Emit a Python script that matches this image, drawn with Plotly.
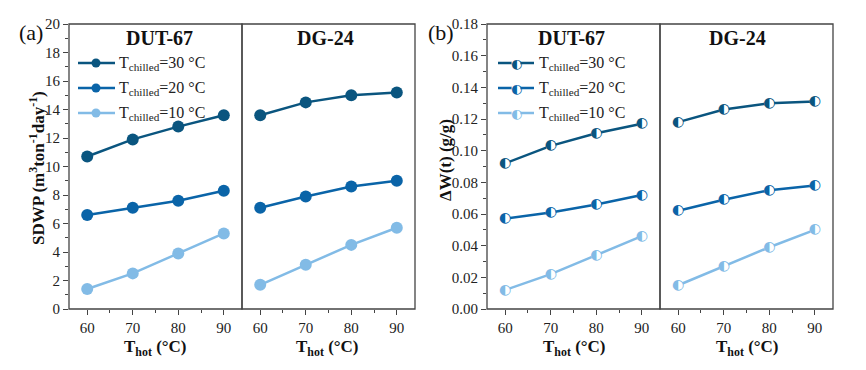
import plotly.graph_objects as go

# ---------------- data ----------------
T_hot = [60, 70, 80, 90]
chilled_labels = ["30", "20", "10"]

sdwp_dut67 = {"30": [10.7, 11.9, 12.8, 13.6], "20": [6.6, 7.1, 7.6, 8.3], "10": [1.4, 2.5, 3.9, 5.3]}
sdwp_dg24 = {"30": [13.6, 14.5, 15.0, 15.2], "20": [7.1, 7.9, 8.6, 9.0], "10": [1.7, 3.1, 4.5, 5.7]}
dw_dut67 = {"30": [0.092, 0.103, 0.111, 0.117], "20": [0.057, 0.061, 0.066, 0.072], "10": [0.012, 0.022, 0.034, 0.046]}
dw_dg24 = {"30": [0.118, 0.126, 0.130, 0.131], "20": [0.062, 0.069, 0.075, 0.078], "10": [0.015, 0.027, 0.039, 0.050]}

panel_titles = ["DUT-67", "DG-24"]

# ---------------- style ----------------
W, H = 866, 370
colors = {"30": "#0a557f", "20": "#0a64a8", "10": "#82bbe6"}
SERIF = "Liberation Serif"
AX = "#444444"
HALF = "\u25D0"


def fx(p):
    return p / W


def fy(p):
    return 1 - p / H


fig = go.Figure()

# panel geometry (pixels)
a_l, a_m, a_r = 69, 242, 415
b_l, b_m, b_r = 487, 660, 833
top, bot = 24, 309

# ---------------- panel (a): filled circles ----------------
for xa, data in (("x", sdwp_dut67), ("x2", sdwp_dg24)):
    for k in chilled_labels:
        fig.add_trace(go.Scatter(
            x=T_hot, y=data[k], xaxis=xa, yaxis="y", mode="lines+markers",
            line=dict(color=colors[k], width=2.5),
            marker=dict(color=colors[k], size=12, line=dict(width=0)),
            showlegend=False, hoverinfo="skip"))

# ---------------- panel (b): half-filled circles ----------------
for xa, data in (("x3", dw_dut67), ("x4", dw_dg24)):
    for k in chilled_labels:
        fig.add_trace(go.Scatter(
            x=T_hot, y=data[k], xaxis=xa, yaxis="y2", mode="lines+markers",
            line=dict(color=colors[k], width=2.5),
            marker=dict(color="white", size=10, line=dict(width=0)),
            showlegend=False, hoverinfo="skip"))
        fig.add_trace(go.Scatter(
            x=T_hot, y=data[k], xaxis=xa, yaxis="y2", mode="text",
            text=[HALF] * len(T_hot), textposition="middle center",
            textfont=dict(family="DejaVu Sans", size=14, color=colors[k]),
            showlegend=False, hoverinfo="skip"))

# ---------------- manual legends (paper coordinates) ----------------
ann = []
shapes = []
for i, k in enumerate(chilled_labels):
    yrow = 63 + 25 * i
    for (l0, l1, mx, tx, half) in ((78, 115, 96, 117, False), (498, 534, 516, 537, True)):
        shapes.append(dict(type="line", xref="paper", yref="paper", x0=fx(l0), x1=fx(l1),
                           y0=fy(yrow), y1=fy(yrow), line=dict(color=colors[k], width=2.5)))
        shapes.append(dict(type="circle", xref="paper", yref="paper", xsizemode="pixel",
                           ysizemode="pixel", xanchor=fx(mx), yanchor=fy(yrow),
                           x0=-4.5, x1=4.5, y0=-4.5, y1=4.5,
                           fillcolor="white" if half else colors[k], line=dict(width=0)))
        if half:
            ann.append(dict(x=fx(mx), y=fy(yrow), xref="paper", yref="paper", text=HALF,
                            showarrow=False, xanchor="center", yanchor="middle",
                            font=dict(family="DejaVu Sans", size=13, color=colors[k])))
        ann.append(dict(x=fx(tx), y=fy(yrow), xref="paper", yref="paper", xanchor="left",
                        yanchor="middle", text=f"T<sub>chilled</sub>={k} °C", showarrow=False,
                        font=dict(family=SERIF, size=16, color="#222")))


# panel labels, titles, axis titles
def label(x, y, text, size, angle=0):
    ann.append(dict(x=fx(x), y=fy(y), xref="paper", yref="paper", text=text, showarrow=False,
                    xanchor="center", yanchor="middle", textangle=angle,
                    font=dict(family=SERIF, size=size, color="#111")))


label(31, 33, "(a)", 22)
label(441, 33, "(b)", 22)
title_x = [159.5, 325, 571.5, 737]
xtitle_x = [155, 327.5, 574.5, 747.5]
for i in range(4):
    label(title_x[i], 38, f"<b>{panel_titles[i % 2]}</b>", 20)
    label(xtitle_x[i], 348, "<b>T<sub>hot</sub> (°C)</b>", 17)
label(37, 168, "<b>SDWP (m<sup>3</sup>ton<sup>-1</sup>day<sup>-1</sup>)</b>", 17, -90)
label(445, 160, "<b>ΔW(t) (g/g)</b>", 17, -90)

# ---------------- axes ----------------
tickfont = dict(family=SERIF, size=15, color="#222")
xcommon = dict(range=[56, 94], tick0=60, dtick=10, ticks="outside", ticklen=5, tickwidth=1.2,
               tickcolor=AX, showline=False, showgrid=False, zeroline=False, tickfont=tickfont,
               automargin=False,
               minor=dict(tick0=60, dtick=5, ticks="outside", ticklen=3, tickwidth=1.2, tickcolor=AX))
ycommon = dict(ticks="outside", ticklen=5, tickwidth=1.2, tickcolor=AX, showgrid=False,
               zeroline=False, showline=False, tickfont=tickfont, automargin=False)

for xr, yr in (("x", "y"), ("x2", "y"), ("x3", "y2"), ("x4", "y2")):
    shapes.append(dict(type="rect", xref=f"{xr} domain", yref=f"{yr} domain", x0=0, x1=1, y0=0, y1=1,
                       line=dict(color=AX, width=1.3), layer="above"))

fig.update_layout(
    width=W, height=H, autosize=False,
    margin=dict(l=0, r=0, t=0, b=0, pad=0),
    paper_bgcolor="white", plot_bgcolor="rgba(0,0,0,0)",
    showlegend=False,
    xaxis=dict(domain=[fx(a_l), fx(a_m)], anchor="y", **xcommon),
    xaxis2=dict(domain=[fx(a_m), fx(a_r)], anchor="y", **xcommon),
    xaxis3=dict(domain=[fx(b_l), fx(b_m)], anchor="y2", **xcommon),
    xaxis4=dict(domain=[fx(b_m), fx(b_r)], anchor="y2", **xcommon),
    yaxis=dict(domain=[fy(bot), fy(top)], anchor="x", range=[0, 20], tick0=0, dtick=2,
               minor=dict(dtick=1, ticks="outside", ticklen=3, tickwidth=1.2, tickcolor=AX),
               **ycommon),
    yaxis2=dict(domain=[fy(bot), fy(top)], anchor="x3", range=[0, 0.18], tick0=0, dtick=0.02,
                tickformat=".2f",
                minor=dict(dtick=0.01, ticks="outside", ticklen=3, tickwidth=1.2, tickcolor=AX),
                **ycommon),
    annotations=ann,
    shapes=shapes,
)

fig.write_html("out.html", config={"displayModeBar": False},
               post_script="document.body.style.margin='0px';")
